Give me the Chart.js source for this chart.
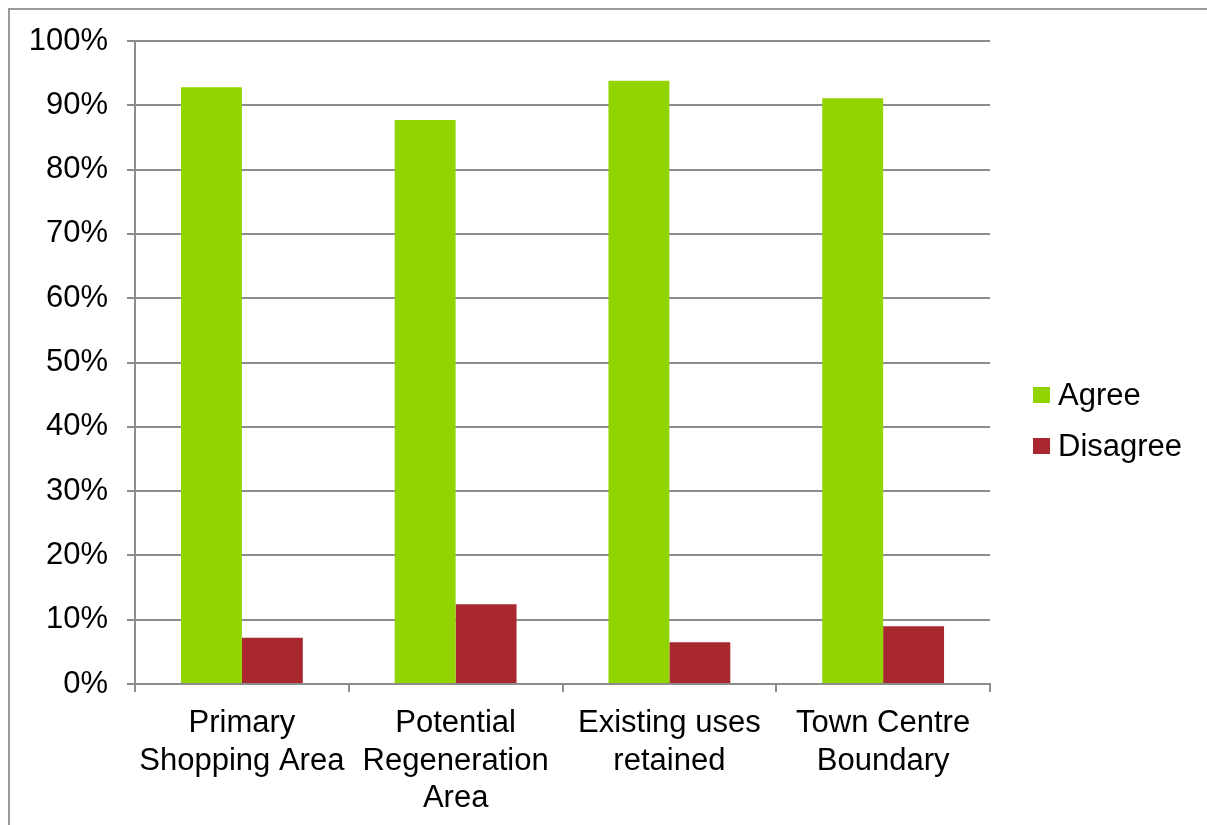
<!DOCTYPE html>
<html>
<head>
<meta charset="utf-8">
<script src="https://cdn.jsdelivr.net/npm/chart.js@4"></script>
<style>
  html, body { margin: 0; padding: 0; background: #fff; }
  #wrap { width: 1207px; height: 825px; }
</style>
</head>
<body>
<div id="wrap"><canvas id="myChart" width="1207" height="825"></canvas></div>
<script>
// data
const categories = [
  ['Primary', 'Shopping Area'],
  ['Potential', 'Regeneration', 'Area'],
  ['Existing uses', 'retained'],
  ['Town Centre', 'Boundary']
]
const seriesNames = ['Agree', 'Disagree']
const agree = [92.8, 87.7, 93.8, 91.1]
const disagree = [7.2, 12.4, 6.5, 9.0]
const yTicks = [0, 10, 20, 30, 40, 50, 60, 70, 80, 90, 100]

const colors = ['#92d400', '#a92830']
const gridColor = '#8c8c8c'
const font = { family: 'Liberation Sans, Arial, sans-serif', size: 31, lineHeight: 1.21 }

// frame around the chart + legend on the right
const frameAndLegend = {
  id: 'frameAndLegend',
  beforeDraw(chart) {
    const ctx = chart.ctx
    ctx.save()
    ctx.fillStyle = '#fff'
    ctx.fillRect(0, 0, chart.width, chart.height)
    ctx.strokeStyle = '#9a9a9a'
    ctx.lineWidth = 2
    ctx.beginPath()
    ctx.moveTo(9, chart.height)
    ctx.lineTo(9, 9)
    ctx.lineTo(chart.width, 9)
    ctx.stroke()
    ctx.restore()
  },
  afterDraw(chart) {
    const ctx = chart.ctx
    ctx.save()
    ctx.font = font.size + 'px ' + font.family
    ctx.textBaseline = 'middle'
    chart.data.datasets.forEach((ds, i) => {
      const y = 395 + i * 51
      ctx.fillStyle = ds.backgroundColor
      ctx.fillRect(1033, y - 8, 17, 16)
      ctx.fillStyle = '#000'
      ctx.fillText(ds.label, 1058, y + 1)
    })
    ctx.restore()
  }
}

const ctx = document.getElementById('myChart').getContext('2d')
const myChart = new Chart(ctx, {
  type: 'bar',
  data: {
    labels: categories,
    datasets: [
      { label: seriesNames[0], data: agree, backgroundColor: colors[0] },
      { label: seriesNames[1], data: disagree, backgroundColor: colors[1] }
    ]
  },
  options: {
    responsive: false,
    animation: false,
    devicePixelRatio: 1,
    layout: { padding: { left: 0, top: 41, right: 217, bottom: 0 } },
    datasets: { bar: { categoryPercentage: 0.57, barPercentage: 1 } },
    plugins: { legend: { display: false }, tooltip: { enabled: false } },
    scales: {
      x: {
        grid: { drawOnChartArea: false, color: gridColor, lineWidth: 2, tickLength: 8 },
        border: { color: gridColor, width: 2 },
        ticks: { color: '#000', font: font, padding: 13, maxRotation: 0, autoSkip: false },
        afterFit(scale) { scale.height = 141 }
      },
      y: {
        min: 0,
        max: 100,
        afterBuildTicks(scale) { scale.ticks = yTicks.map(v => ({ value: v })) },
        grid: { color: gridColor, lineWidth: 2, tickLength: 8 },
        border: { color: gridColor, width: 2 },
        ticks: { color: '#000', font: font, padding: 19, callback: v => v + '%' },
        afterFit(scale) { scale.width = 135 }
      }
    }
  },
  plugins: [frameAndLegend]
})
</script>
</body>
</html>
